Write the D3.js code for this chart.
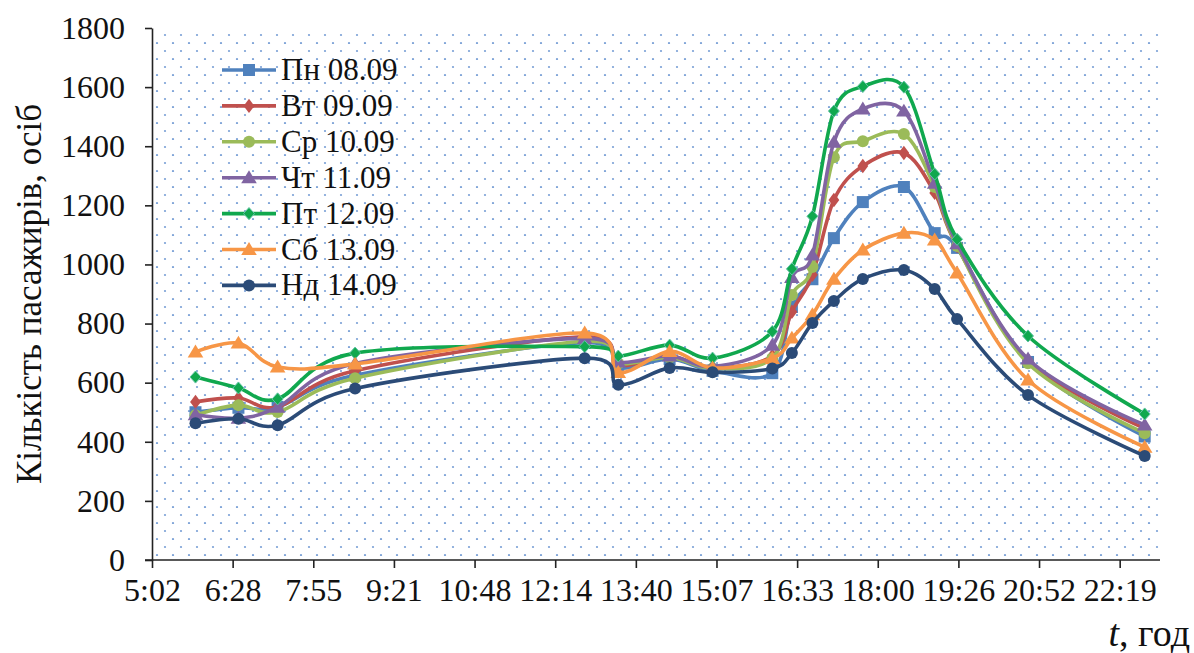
<!DOCTYPE html>
<html>
<head>
<meta charset="utf-8">
<script src="https://cdn.jsdelivr.net/npm/d3@7"></script>
<style>
  body { margin: 0; background: #fff; }
  svg { display: block; }
</style>
</head>
<body>
<svg id="chart" width="1194" height="653"></svg>
<script>
// Observation times (H:MM)
const times = ["5:49", "6:35", "7:17", "8:40", "12:46", "13:22", "14:17", "15:03", "16:07",
               "16:28", "16:50", "17:13", "17:44", "18:28", "19:01", "19:25", "20:41", "22:46"];

// Passenger counts per day
const mon = [500, 515, 518, 625, 735, 650, 680, 640, 632, 856, 950, 1089, 1211, 1262, 1106, 1056, 670, 418];
const tue = [535, 548, 518, 640, 755, 660, 690, 650, 690, 840, 965, 1218, 1333, 1377, 1242, 1062, 676, 445];
const wed = [490, 524, 501, 615, 740, 665, 685, 648, 682, 897, 991, 1363, 1417, 1441, 1262, 1062, 666, 429];
const thu = [492, 480, 517, 665, 750, 670, 690, 655, 727, 956, 1032, 1414, 1526, 1519, 1275, 1070, 680, 457];
const fri = [619, 582, 545, 700, 722, 690, 727, 683, 773, 985, 1163, 1519, 1602, 1600, 1306, 1085, 758, 494];
const sat = [704, 734, 653, 663, 768, 635, 706, 650, 682, 751, 830, 950, 1049, 1106, 1083, 971, 609, 382];
const sun = [463, 478, 456, 580, 683, 593, 650, 635, 648, 700, 802, 876, 951, 981, 917, 815, 558, 352];

const seriesNames = ["Пн 08.09", "Вт 09.09", "Ср 10.09", "Чт 11.09", "Пт 12.09", "Сб 13.09", "Нд 14.09"];
const seriesValues = [mon, tue, wed, thu, fri, sat, sun];
const seriesColors = ["#4f81bd", "#c0504d", "#9bbb59", "#8064a2", "#10a84e", "#f79646", "#2b4b77"];
const seriesMarkers = ["square", "diamond", "circle", "triangle", "smallDiamond", "triangle", "circle"];

// Axis labels
const xTickLabels = ["5:02", "6:28", "7:55", "9:21", "10:48", "12:14", "13:40", "15:07",
                     "16:33", "18:00", "19:26", "20:52", "22:19"];
const yTicks = [0, 200, 400, 600, 800, 1000, 1200, 1400, 1600, 1800];
const yTitle = "Кількість пасажирів, осіб";

const SERIF = '"Liberation Serif", "Times New Roman", "DejaVu Serif", serif';

// Time axis in minutes after midnight: 0.21 … 0.96 of a day, step 0.06 day
const dayMin = 1440;
const xMin = 0.21 * dayMin, xMax = 0.96 * dayMin, xStep = 0.06 * dayMin;
const toMinutes = s => { const [h, m] = s.split(":").map(Number); return h * 60 + m; };

const svg = d3.select("#chart");
const plot = { left: 152, right: 1160, top: 28, bottom: 560 };

const x = d3.scaleLinear().domain([xMin, xMax]).range([plot.left, plot.right]);
const y = d3.scaleLinear().domain([0, 1800]).range([plot.bottom, plot.top]);

// dotted plot-area fill
const defs = svg.append("defs");
const pat = defs.append("pattern")
  .attr("id", "dots").attr("patternUnits", "userSpaceOnUse")
  .attr("x", plot.left).attr("y", plot.top).attr("width", 16).attr("height", 16);
pat.append("rect").attr("width", 16).attr("height", 16).attr("fill", "#fff");
pat.append("circle").attr("cx", 13).attr("cy", 7).attr("r", 1.1).attr("fill", "#7aa0d6");
pat.append("circle").attr("cx", 5).attr("cy", 15).attr("r", 1.1).attr("fill", "#7aa0d6");

svg.append("rect")
  .attr("x", plot.left).attr("y", plot.top)
  .attr("width", plot.right - plot.left).attr("height", plot.bottom - plot.top)
  .attr("fill", "url(#dots)");

// axes
const xTickVals = d3.range(0, xTickLabels.length).map(i => xMin + i * xStep);
const xAxis = d3.axisBottom(x).tickValues(xTickVals)
  .tickFormat((d, i) => xTickLabels[i]).tickSize(8).tickSizeOuter(0).tickPadding(10);
const gx = svg.append("g").attr("transform", `translate(0,${plot.bottom})`).call(xAxis);
gx.select(".domain").attr("stroke", "#222").attr("stroke-width", 1.6)
  .attr("d", `M${plot.left - 7},0H${plot.right}`);
gx.selectAll(".tick line").attr("stroke", "#222").attr("stroke-width", 1.6);
gx.selectAll(".tick text").attr("fill", "#111")
  .style("font-family", SERIF).style("font-size", "32px");

const yAxis = d3.axisLeft(y).tickValues(yTicks).tickFormat(d3.format("d"))
  .tickSize(7).tickSizeOuter(0).tickPadding(20);
const gy = svg.append("g").attr("transform", `translate(${plot.left},0)`).call(yAxis);
gy.select(".domain").attr("stroke", "#222").attr("stroke-width", 1.6);
gy.selectAll(".tick line").attr("stroke", "#222").attr("stroke-width", 1.6);
gy.selectAll(".tick text").attr("fill", "#111")
  .style("font-family", SERIF).style("font-size", "32px");

// axis titles
svg.append("text")
  .attr("transform", `translate(41,${(plot.top + plot.bottom) / 2}) rotate(-90)`)
  .attr("text-anchor", "middle").attr("fill", "#111")
  .style("font-family", SERIF).style("font-size", "35px")
  .text(yTitle);

const xt = svg.append("text").attr("x", 1190).attr("y", 646)
  .attr("text-anchor", "end").attr("fill", "#111")
  .style("font-family", SERIF).style("font-size", "38px");
xt.append("tspan").style("font-style", "italic").text("t");
xt.append("tspan").text(", год");

// marker shapes
function marker(g, type, color, size) {
  const s = size;
  if (type === "square") {
    g.append("rect").attr("x", -s / 2).attr("y", -s / 2).attr("width", s).attr("height", s)
      .attr("fill", color);
  } else if (type === "diamond") {
    g.append("path").attr("d", `M0,${-s * 0.6}L${s * 0.45},0L0,${s * 0.6}L${-s * 0.45},0Z`)
      .attr("fill", color);
  } else if (type === "smallDiamond") {
    g.append("path").attr("d", `M0,${-s * 0.55}L${s * 0.5},0L0,${s * 0.55}L${-s * 0.5},0Z`)
      .attr("fill", color).attr("stroke", "#63c4a6").attr("stroke-width", 1);
  } else if (type === "circle") {
    g.append("circle").attr("r", s / 2).attr("fill", color);
  } else if (type === "triangle") {
    const h = s * 0.95;
    g.append("path").attr("d", `M0,${-h * 0.6}L${s * 0.6},${h * 0.45}L${-s * 0.6},${h * 0.45}Z`)
      .attr("fill", color);
  }
}
const markerSize = { square: 12, diamond: 12, circle: 12, triangle: 13, smallDiamond: 11 };

const line = d3.line()
  .x(d => x(d.t)).y(d => y(d.v))
  .curve(d3.curveCardinal.tension(0));

const series = seriesNames.map((name, i) => ({
  name, color: seriesColors[i], marker: seriesMarkers[i],
  points: times.map((t, j) => ({ t: toMinutes(t), v: seriesValues[i][j] }))
}));

const gSeries = svg.append("g");
series.forEach(s => {
  const g = gSeries.append("g");
  g.append("path").datum(s.points).attr("d", line)
    .attr("fill", "none").attr("stroke", s.color).attr("stroke-width", 3.6)
    .attr("stroke-linejoin", "round");
  s.points.forEach(p => {
    const m = g.append("g").attr("transform", `translate(${x(p.t)},${y(p.v)})`);
    marker(m, s.marker, s.color, markerSize[s.marker]);
  });
});

// legend
const legend = svg.append("g").attr("transform", "translate(222,70)");
series.forEach((s, i) => {
  const g = legend.append("g").attr("transform", `translate(0,${i * 35.9})`);
  g.append("line").attr("x1", 0).attr("x2", 54).attr("y1", 0).attr("y2", 0)
    .attr("stroke", s.color).attr("stroke-width", 3.6);
  const m = g.append("g").attr("transform", "translate(27,0)");
  marker(m, s.marker, s.color, markerSize[s.marker]);
  g.append("text").attr("x", 59).attr("y", 10).attr("fill", "#111")
    .style("font-family", SERIF).style("font-size", "31px").text(s.name);
});
</script>
</body>
</html>
